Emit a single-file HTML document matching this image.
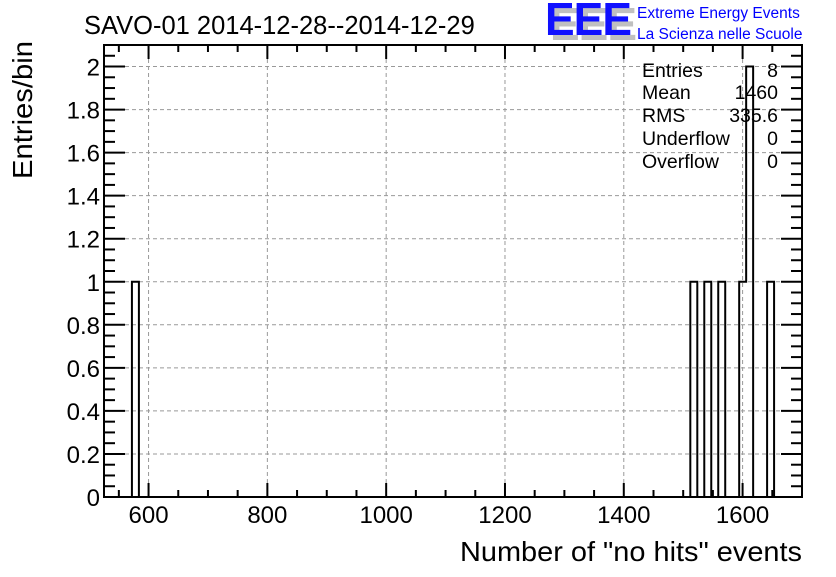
<!DOCTYPE html>
<html><head><meta charset="utf-8"><style>
body{margin:0;background:#fff;}
svg text{font-family:"Liberation Sans",sans-serif;}
</style></head><body>
<svg id="c" width="836" height="572" viewBox="0 0 836 572" xmlns="http://www.w3.org/2000/svg">
<rect width="836" height="572" fill="#fff"/>
<text x="84" y="34" font-size="25.5">SAVO-01 2014-12-28--2014-12-29</text>
<g>
<text x="550" y="40" font-size="46" font-weight="bold" fill="#c0c0c0" letter-spacing="-1" textLength="86" lengthAdjust="spacingAndGlyphs">EEE</text>
<text x="545" y="35" font-size="46" font-weight="bold" fill="#1010ff" letter-spacing="-1" textLength="86" lengthAdjust="spacingAndGlyphs">EEE</text>
<text x="637" y="18" font-size="15.5" fill="#0000ff">Extreme Energy Events</text>
<text x="637" y="39" font-size="15.5" fill="#0000ff">La Scienza nelle Scuole</text>
</g>
<g id="grid"></g><g id="hist"></g><g id="axes"></g>
<g font-size="19.5">
<text x="642" y="77">Entries</text><text x="778" y="77" text-anchor="end">8</text>
<text x="642" y="99">Mean</text><text x="778" y="99" text-anchor="end">1460</text>
<text x="642" y="122">RMS</text><text x="778" y="122" text-anchor="end">335.6</text>
<text x="642" y="145">Underflow</text><text x="778" y="145" text-anchor="end">0</text>
<text x="642" y="168">Overflow</text><text x="778" y="168" text-anchor="end">0</text>
</g>
<text x="802" y="561" font-size="28" text-anchor="end" textLength="342" lengthAdjust="spacingAndGlyphs">Number of "no hits" events</text>
<text transform="translate(32,179) rotate(-90)" font-size="28" textLength="138" lengthAdjust="spacingAndGlyphs">Entries/bin</text>
</svg>
<script>
const binIndex=[4,84,86,88,91,92,95];
const binCounts=[1,1,1,1,1,2,1];
const xTicks=[600,800,1000,1200,1400,1600];
const yTicks=[0,0.2,0.4,0.6,0.8,1,1.2,1.4,1.6,1.8,2];
const xMin=525,xMax=1700,nBins=100,yMax=2.1;
const L=104,R=802,T=45,B=497;
const X=v=>L+(v-xMin)/(xMax-xMin)*(R-L);
const Y=v=>B-v/yMax*(B-T);
const NS="http://www.w3.org/2000/svg";
function mk(tag,attrs,parent){const e=document.createElementNS(NS,tag);for(const k in attrs)e.setAttribute(k,attrs[k]);parent.appendChild(e);return e;}
const grid=document.getElementById('grid'),axes=document.getElementById('axes'),hist=document.getElementById('hist');
xTicks.forEach(t=>{const l=mk('line',{x1:X(t),x2:X(t),y1:T,y2:B,stroke:'#999','stroke-dasharray':'4,3','stroke-width':1},grid);

});
yTicks.forEach(t=>{if(t===0)return;const l=mk('line',{x1:L,x2:R,y1:Y(t),y2:Y(t),stroke:'#999','stroke-dasharray':'4,3','stroke-width':1},grid);

});
const counts=new Array(nBins).fill(0);
binIndex.forEach((b,i)=>counts[b]=binCounts[i]);
const w=(xMax-xMin)/nBins;
let d=`M${X(xMin)},${Y(0)}`;
for(let i=0;i<nBins;i++){const x0=X(xMin+i*w),x1=X(xMin+(i+1)*w);d+=` L${x0},${Y(counts[i])} L${x1},${Y(counts[i])}`;}
const p=mk('path',{d:d,fill:'none',stroke:'#000','stroke-width':2},hist);


const f=mk('rect',{x:L,y:T,width:R-L,height:B-T,fill:'none',stroke:'#000','stroke-width':2},axes);


for(let v=550;v<=1700;v+=50){const maj=v%200===0;const len=maj?14:7;
mk('line',{x1:X(v),x2:X(v),y1:B,y2:B-len,stroke:'#000','stroke-width':2},axes);
mk('line',{x1:X(v),x2:X(v),y1:T,y2:T+len,stroke:'#000','stroke-width':2},axes);}
xTicks.forEach(t=>{const tx=mk('text',{x:X(t),y:B+26,'font-size':24,'text-anchor':'middle'},axes);tx.textContent=t;

});
for(let k=0;k<=42;k++){const v=k*0.05;const maj=k%4===0;const len=maj?21:11;
mk('line',{x1:L,x2:L+len,y1:Y(v),y2:Y(v),stroke:'#000','stroke-width':2},axes);
mk('line',{x1:R,x2:R-len,y1:Y(v),y2:Y(v),stroke:'#000','stroke-width':2},axes);}
yTicks.forEach(t=>{const tx=mk('text',{x:L-4,y:Y(t)+9,'font-size':24,'text-anchor':'end'},axes);tx.textContent=String(t);

});
</script>
</body></html>
